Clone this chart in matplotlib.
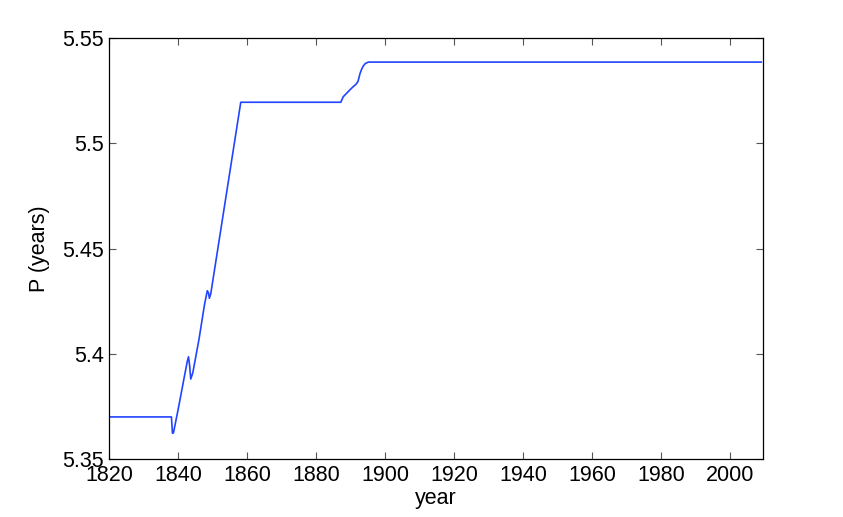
import numpy as np
import matplotlib.pyplot as plt

plt.rcParams['font.family'] = ['Liberation Sans', 'DejaVu Sans']

# values
year = [1820, 1838.0, 1838.3, 1838.6, 1840.0, 1841.5, 1842.6, 1842.95, 1843.3, 1843.6,
        1844.2, 1846.0, 1847.6, 1848.4, 1848.75, 1849.0, 1849.4,
        1858.1, 1887.1, 1887.8, 1888.8, 1889.8, 1890.7, 1891.6, 1892.1, 1892.4, 1892.7,
        1893.2, 1893.6, 1894.2, 1895.1, 2009.0]
period = [5.370, 5.370, 5.3622, 5.3625, 5.374, 5.387, 5.3965, 5.3986, 5.394, 5.388,
          5.391, 5.407, 5.4235, 5.4300, 5.429, 5.4264, 5.4285,
          5.5196, 5.5196, 5.5222, 5.5239, 5.5256, 5.5270, 5.5283, 5.5296, 5.5315, 5.5334,
          5.5355, 5.5368, 5.5380, 5.5387, 5.5387]

x_ticks = [1820, 1840, 1860, 1880, 1900, 1920, 1940, 1960, 1980, 2000]
y_ticks = [5.35, 5.4, 5.45, 5.5, 5.55]
y_tick_labels = ['5.35', '5.4', '5.45', '5.5', '5.55']

fig = plt.figure(figsize=(8.43, 5.17), dpi=100)
ax = fig.add_axes([0.1297, 0.1122, 0.775, 0.8137])

ax.plot(year, period, color='#2244ff', lw=1.2)

ax.set_xlim(1820, 2009.4)
ax.set_ylim(5.35, 5.55)
ax.set_xticks(x_ticks)
ax.set_yticks(y_ticks)
ax.set_yticklabels(y_tick_labels)
ax.tick_params(direction='in', top=True, right=True, length=5, width=0.8,
               labelsize=15.5, pad=4, color='#555555')
for s in ax.spines.values():
    s.set_linewidth(0.9)
    s.set_color('black')

ax.set_xlabel('year', fontsize=15.5, labelpad=2)
ax.set_ylabel('P (years)', fontsize=15.5, labelpad=9)

fig.savefig('out.png', dpi=100)
